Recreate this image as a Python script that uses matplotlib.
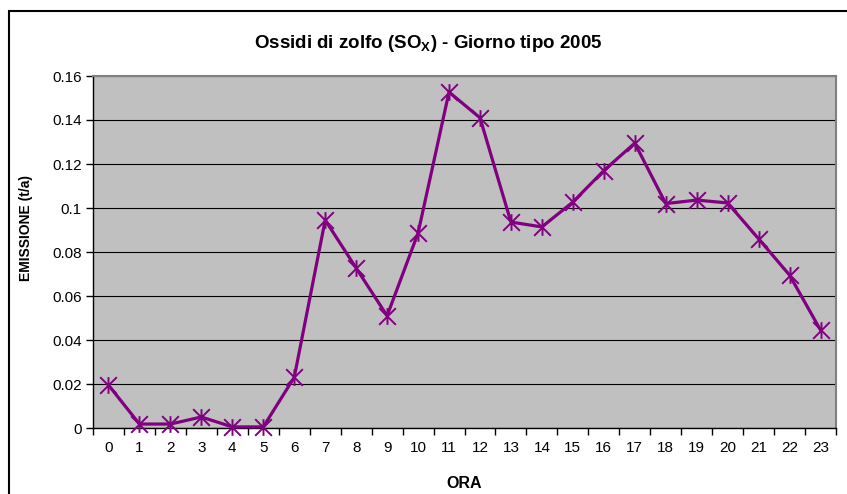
import numpy as np
import matplotlib
matplotlib.use("Agg")
import matplotlib.pyplot as plt
from matplotlib.path import Path
from matplotlib.patches import Rectangle

plt.rcParams["font.family"] = ["Liberation Sans", "DejaVu Sans"]
plt.rcParams["mathtext.fontset"] = "custom"
plt.rcParams["mathtext.rm"] = "Liberation Sans"
plt.rcParams["mathtext.bf"] = "Liberation Sans:bold"

# --- data ------------------------------------------------------------------
ore = list(range(24))
emissione = [0.0195, 0.0018, 0.0018, 0.0050, 0.0005, 0.0005, 0.0230, 0.0945,
             0.0727, 0.0510, 0.0886, 0.1527, 0.1410, 0.0936, 0.0914, 0.1027,
             0.1170, 0.1295, 0.1020, 0.1036, 0.1023, 0.0860, 0.0695, 0.0445]
y_ticks = [0, 0.02, 0.04, 0.06, 0.08, 0.1, 0.12, 0.14, 0.16]
y_ticklabels = ["0", "0.02", "0.04", "0.06", "0.08", "0.1", "0.12", "0.14", "0.16"]

# excel-style asterisk: vertical bar + X
star = Path([(0, -1), (0, 1), (-1, -1), (1, 1), (-1, 1), (1, -1)],
            [Path.MOVETO, Path.LINETO, Path.MOVETO, Path.LINETO,
             Path.MOVETO, Path.LINETO])

fig = plt.figure(figsize=(8.47, 4.94), dpi=100)
ax = fig.add_axes([93 / 847, 66 / 494, 743 / 847, 352 / 494])
ax.set_facecolor("#C0C0C0")

ax.plot(ore, emissione, color="#800080", lw=2.3, marker=star, ms=12,
        mew=1.4, zorder=3, clip_on=False)

ax.set_xlim(-0.5, 23.5)
ax.set_ylim(0, 0.16)
ax.set_yticks(y_ticks)
ax.set_yticklabels(y_ticklabels)
ax.yaxis.grid(True, color="black", lw=0.8)
ax.set_axisbelow(True)

ax.set_xticks(ore)
ax.set_xticklabels([str(h) for h in ore])
ax.set_xticks(np.arange(-0.5, 24, 1), minor=True)
ax.tick_params(axis="x", which="major", length=0, pad=9, labelsize=11)
ax.tick_params(axis="x", which="minor", length=5, width=1, direction="out")
ax.tick_params(axis="y", length=5, width=1, labelsize=11, pad=3)

for s in ("left", "bottom"):
    ax.spines[s].set_color("black")
    ax.spines[s].set_linewidth(1)
for s in ("top", "right"):
    ax.spines[s].set_color("#808080")
    ax.spines[s].set_linewidth(1.5)

ax.set_xlabel("ORA", fontsize=11.5, fontweight="bold", va="center")
ax.xaxis.set_label_coords(0.5, (428 - 483) / 352)
ax.set_ylabel("EMISSIONE (t/a)", fontsize=10, fontweight="bold", va="center")
ax.yaxis.set_label_coords((26 - 93) / 743, (428 - 228) / 352)
fig.text(0.506, 1 - 43 / 494, r"Ossidi di zolfo (SO$_{\mathbf{X}}$) - Giorno tipo 2005",
         ha="center", va="center", fontsize=13.5, fontweight="bold")

# chart-area frame (right/bottom edges run off the picture)
fig.patches.append(Rectangle((8.5 / 847, -0.05), 1.0, 1 - 11 / 494 + 0.05,
                             transform=fig.transFigure, fill=False,
                             ec="black", lw=1.5, clip_on=False))

fig.savefig("out.png", dpi=100)
